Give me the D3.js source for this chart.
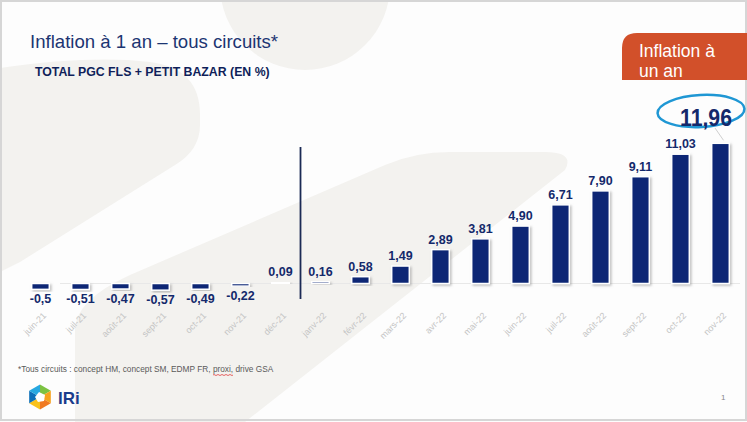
<!DOCTYPE html>
<html><head><meta charset="utf-8">
<script src="https://cdn.jsdelivr.net/npm/d3@7"></script>
<style>
html,body{margin:0;padding:0;background:#fff;}
svg{display:block;font-family:"Liberation Sans",Arial,sans-serif;}
</style></head>
<body>
<svg id="chart" width="747" height="422"></svg>
<script>
const categories = ["juin-21","juil-21","août-21","sept-21","oct-21","nov-21","déc-21","janv-22","févr-22","mars-22","avr-22","mai-22","juin-22","juil-22","août-22","sept-22","oct-22","nov-22"];
const values = [-0.5,-0.51,-0.47,-0.57,-0.49,-0.22,0.09,0.16,0.58,1.49,2.89,3.81,4.90,6.71,7.90,9.11,11.03,11.96];
const valueLabels = ["-0,5","-0,51","-0,47","-0,57","-0,49","-0,22","0,09","0,16","0,58","1,49","2,89","3,81","4,90","6,71","7,90","9,11","11,03",""];
const highlightLabel = "11,96";
const dividerAfter = "déc-21";
const title = "Inflation à 1 an – tous circuits*";
const subtitle = "TOTAL PGC FLS + PETIT BAZAR (EN %)";
const calloutLines = ["Inflation à","un an"];
const footnote = "*Tous circuits : concept HM, concept SM, EDMP FR, proxi, drive GSA";

const svg = d3.select("#chart");
const W = 747, H = 422;
const NAVY = "#0b2675", LABEL = "#14296b";

// background
svg.append("rect").attr("width",W).attr("height",H).attr("fill","#fdfdfd");
const bg = svg.append("g").attr("fill","#f3f2ef");
bg.append("path").attr("d","M0,68 Q90,55 150,62 Q200,68 200,115 L200,125 Q200,150 175,165 L20,262 L0,272 Z");
bg.append("circle").attr("cx",305).attr("cy",-15).attr("r",85);
bg.append("path").attr("d","M75,422 L75,330 Q75,300 130,275 L385,165 Q415,152 450,152 L545,152 Q575,152 565,170 L245,422 Z");
// frame
svg.append("rect").attr("x",1).attr("y",1).attr("width",W-2).attr("height",H-3)
  .attr("fill","none").attr("stroke","#d6d6d6").attr("stroke-width",2);

// filter
const defs = svg.append("defs");
const f = defs.append("filter").attr("id","sh").attr("x","-30%").attr("y","-30%").attr("width","160%").attr("height","160%");
f.append("feDropShadow").attr("dx",1.5).attr("dy",1.5).attr("stdDeviation",1).attr("flood-color","#888").attr("flood-opacity",0.55);

// scales
const x = d3.scaleBand().domain(categories).range([20.5,740.5]).paddingInner(0.56).paddingOuter(0.28);
const y = d3.scaleLinear().domain([0,11.96]).range([283.5,143.3]);

// baseline
svg.append("line").attr("x1",60).attr("x2",740).attr("y1",y(0)).attr("y2",y(0))
  .attr("stroke","#e8e8e8").attr("stroke-width",1);

// bars
svg.append("g").selectAll("rect").data(values).join("rect")
  .attr("x",(d,i)=>x(categories[i]))
  .attr("width",x.bandwidth())
  .attr("y",d=>Math.min(y(0),y(d)))
  .attr("height",d=>Math.abs(y(d)-y(0)))
  .attr("fill",NAVY).attr("stroke","#fff").attr("stroke-width",1.5)
  .attr("filter","url(#sh)");

// value labels
svg.append("g").selectAll("text").data(values).join("text")
  .attr("x",(d,i)=>x(categories[i])+x.bandwidth()/2)
  .attr("y",d=>d>=0 ? y(d)-6 : y(d)+14)
  .attr("text-anchor","middle")
  .attr("font-size",12.5).attr("font-weight","bold").attr("fill",LABEL)
  .text((d,i)=>valueLabels[i]);

// x axis labels
const xAxis = d3.axisBottom(x).tickSize(0).tickPadding(0);
const ax = svg.append("g").call(xAxis);
ax.select(".domain").remove();
ax.selectAll(".tick text")
  .attr("transform","translate(4,314) rotate(-45)")
  .attr("y",0).attr("dy","0.35em")
  .attr("text-anchor","end")
  .attr("font-size",9).attr("fill","#c4c4c4")
  .attr("font-family","'Liberation Sans',Arial,sans-serif");

// divider
const divX = x(dividerAfter)+x.bandwidth()/2 + x.step()/2;
svg.append("line").attr("x1",divX).attr("x2",divX).attr("y1",147).attr("y2",299)
  .attr("stroke","#1b2a55").attr("stroke-width",1.8);

// highlight callout
const last = categories[categories.length-1];
const hx = x(last)+x.bandwidth()/2;
svg.append("line").attr("x1",715).attr("y1",128).attr("x2",hx+3).attr("y2",y(values[values.length-1])-3)
  .attr("stroke","#cfcfcf").attr("stroke-width",1);
svg.append("ellipse").attr("cx",701).attr("cy",111).attr("rx",43.5).attr("ry",16)
  .attr("fill","none").attr("stroke","#1f97d4").attr("stroke-width",2.5)
  .attr("transform","rotate(-3,701,111)");
svg.append("text").attr("x",706).attr("y",125.5).attr("text-anchor","middle")
  .attr("font-size",23).attr("font-weight","bold").attr("fill",LABEL)
  .attr("textLength",52).attr("lengthAdjust","spacingAndGlyphs")
  .text(highlightLabel);

// orange callout box
svg.append("path").attr("d","M747,33 L637,33 Q622,33 622,48 L622,80 L747,80 Z").attr("fill","#d2502a");
svg.append("g").selectAll("text").data(calloutLines).join("text")
  .attr("x",639).attr("y",(d,i)=>56.5+i*20.5)
  .attr("font-size",17.5).attr("fill","#fff").text(d=>d);

// title
svg.append("text").attr("x",30).attr("y",48).attr("font-size",18.6).attr("fill","#1c3572").text(title);
svg.append("text").attr("x",35).attr("y",76).attr("font-size",12.3).attr("font-weight","bold").attr("fill","#0f1f5a").text(subtitle);

// footnote
svg.append("text").attr("x",18).attr("y",372).attr("font-size",8.3).attr("fill","#5a5a5a").text(footnote);
svg.append("path").attr("d","M213,375 q1,-1 2,0 q1,1 2,0 q1,-1 2,0 q1,1 2,0 q1,-1 2,0 q1,1 2,0 q1,-1 2,0 q1,1 2,0 q1,-1 2,0 q1,1 2,0")
  .attr("fill","none").attr("stroke","#e04040").attr("stroke-width",0.8);

// logo
const lg = svg.append("g").attr("transform","translate(40,397)");
const R = 12.5;
const cols = ["#7cc242","#f6a21d","#f07a22","#f9c21b","#0d6fb8","#27a8e0"];
for(let k=0;k<6;k++){
  const a1 = (-90 + 60*k)*Math.PI/180, a2 = (-30 + 60*k)*Math.PI/180;
  lg.append("path").attr("d",`M0,0 L${R*Math.cos(a1)},${R*Math.sin(a1)} L${R*Math.cos(a2)},${R*Math.sin(a2)} Z`).attr("fill",cols[k]);
}
lg.append("path").attr("d","M-1,-5 L5,-2 L4,4 L-2,5 L-5,0 Z").attr("fill","#fff");
svg.append("text").attr("x",58).attr("y",403.5).attr("font-size",17).attr("font-weight","bold").attr("fill","#1a3c8c").text("IRi");

// page number
svg.append("text").attr("x",721).attr("y",400).attr("font-size",8).attr("fill","#888").text("1");
</script>
</body></html>
